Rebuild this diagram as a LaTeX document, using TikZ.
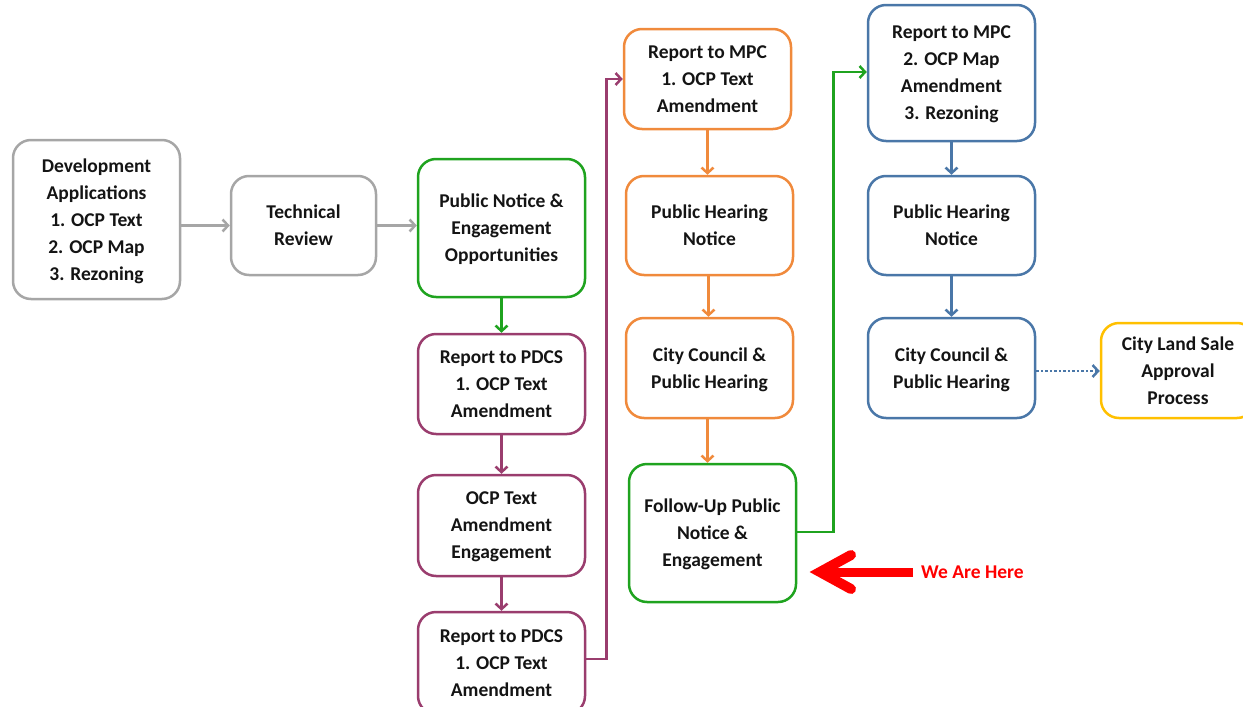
\documentclass[tikz,border=0pt]{standalone}
\usepackage{fontspec}
\setmainfont{Carlito}
\usetikzlibrary{arrows.meta,calc}
\definecolor{cgray}{HTML}{A6A6A6}
\definecolor{cgreen}{HTML}{1FA31F}
\definecolor{cpurple}{HTML}{9A3D6E}
\definecolor{corange}{HTML}{F08A3C}
\definecolor{cblue}{HTML}{4A77A8}
\definecolor{cyellow}{HTML}{FFC000}
\definecolor{ctext}{HTML}{141414}
\tikzset{
  box/.style={draw=#1, line width=2.5pt, rounded corners=18pt, fill=white,
    align=center, text=ctext, inner sep=2pt, text depth=-3pt,
    font=\fontsize{19.5}{27}\selectfont\bfseries,
    minimum width=167pt, minimum height=100pt},
  conn/.style={draw=#1, line width=2.5pt, -{Straight Barb[length=5.5pt,width=12pt,line width=2.5pt]}},
}
\begin{document}
\begin{tikzpicture}[x=1pt,y=-1pt]
\useasboundingbox (0,0) rectangle (1243,707);
\begin{scope}
\clip (0,0) rectangle (1243,707);
% gray
\node[box=cgray, minimum height=159pt] (dev) at (96.5,219.5) {Development\\Applications\\1. OCP Text\\2. OCP Map\\3. Rezoning};
\node[box=cgray, minimum width=145pt, minimum height=99pt] (tech) at (303.5,225.5) {Technical\\Review};
% green / purple column
\node[box=cgreen, minimum height=138pt] (pub) at (501.5,228) {Public Notice \&\\Engagement\\Opportunities};
\node[box=cpurple] (pdcs1) at (501.5,384) {Report to PDCS\\1. OCP Text\\Amendment};
\node[box=cpurple, minimum height=101pt] (eng) at (501.5,525.5) {OCP Text\\Amendment\\Engagement};
\node[box=cpurple, minimum height=102pt] (pdcs2) at (501.5,663) {Report to PDCS\\1. OCP Text\\Amendment};
% orange column
\node[box=corange] (mpc1) at (707.5,79) {Report to MPC\\1. OCP Text\\Amendment};
\node[box=corange, minimum height=99pt] (phn) at (709.5,225.5) {Public Hearing\\Notice};
\node[box=corange] (cc) at (709.5,368) {City Council \&\\Public Hearing};
\node[box=cgreen, minimum height=138pt] (fu) at (712.5,533) {Follow-Up Public\\Notice \&\\Engagement};
% blue column
\node[box=cblue, minimum height=136pt] (mpc2) at (951.5,73) {Report to MPC\\2. OCP Map\\Amendment\\3. Rezoning};
\node[box=cblue, minimum height=99pt] (phn2) at (951.5,225.5) {Public Hearing\\Notice};
\node[box=cblue] (cc2) at (951.5,368) {City Council \&\\Public Hearing};
\node[box=cyellow, minimum width=154pt, minimum height=95pt] (land) at (1178,370.5) {City Land Sale\\Approval\\Process};
% helper coordinates
\coordinate (ccS) at ($(cc.south)+(-2,0)$);
\coordinate (cc2E) at ($(cc2.east)+(0,3)$);
\coordinate (pdcs2E) at ($(pdcs2.east)+(0,-4)$);
\coordinate (fuE) at ($(fu.east)+(0,-1)$);
\coordinate (mpc2W) at ($(mpc2.west)+(0,-1)$);
% connectors
\draw[conn=cgray] (dev.east |- tech.west) -- (tech.west);
\draw[conn=cgray] (tech.east) -- (pub.west |- tech.east);
\draw[conn=cgreen] (pub.south) -- (pdcs1.north);
\draw[conn=cpurple] (pdcs1.south) -- (eng.north);
\draw[conn=cpurple] (eng.south) -- (pdcs2.north);
\draw[conn=cpurple] (pdcs2E) -- ++(20,0) |- (mpc1.west);
\draw[conn=corange] (mpc1.south) -- (mpc1.south |- phn.north);
\draw[conn=corange] ($(phn.south)+(-1,0)$) -- ($(cc.north)+(-1,0)$);
\draw[conn=corange] (ccS) -- (ccS |- fu.north);
\draw[conn=cgreen] (fuE) -- ++(36,0) |- (mpc2W);
\draw[conn=cblue] (mpc2.south) -- (phn2.north);
\draw[conn=cblue] (phn2.south) -- (cc2.north);
\draw[conn=cblue, dotted] (cc2E) -- (cc2E -| land.west);
% we are here
\node[anchor=west, text=red, inner sep=0pt, font=\fontsize{19.5}{27}\selectfont\bfseries] (wah) at (921,572) {We Are Here};
\coordinate (tip) at (820,572);
\coordinate (armA) at (851,555);
\coordinate (armB) at (851,589);
\draw[red, line width=9pt] ($(wah.west)+(-8,0)$) -- ($(tip)+(6,0)$);
\draw[red, line width=10pt, line cap=round, line join=miter] (armA) -- (tip) -- (armB);
\end{scope}
\end{tikzpicture}
\end{document}
